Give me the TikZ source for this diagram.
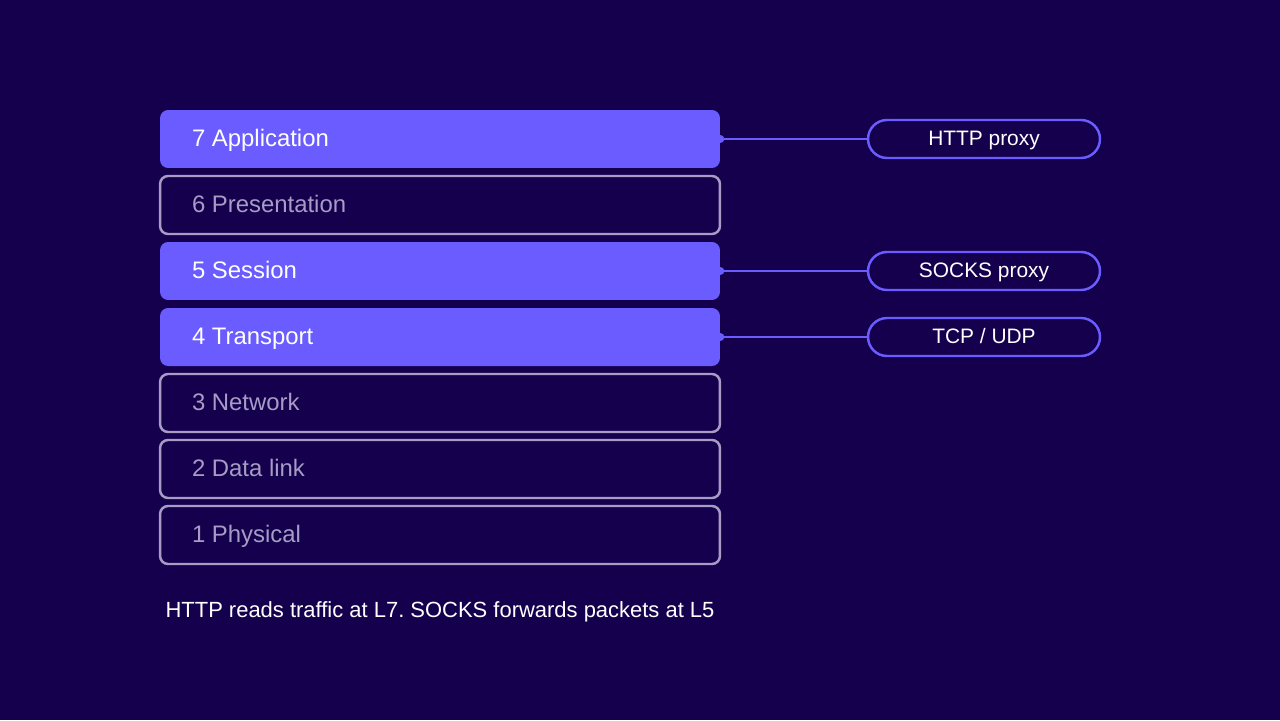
\documentclass[tikz,border=0pt]{standalone}
\usepackage{fontspec}
\setmainfont{Liberation Sans}
\usetikzlibrary{positioning}
\definecolor{bgdark}{HTML}{14004D}
\definecolor{layerblue}{HTML}{6A5CFF}
\definecolor{layergrey}{HTML}{A69CC6}
\tikzset{
layeron/.style={draw=none, fill=layerblue, rounded corners=0.16cm, minimum width=11.2cm, minimum height=1.16cm, text width=9.92cm, inner xsep=0.64cm, text height=2.05ex, text depth=0.45ex, align=flush left, text=white, font=\fontsize{13.6}{16}\selectfont},
layeroff/.style={layeron, fill=none, draw=layergrey, line width=1.4pt, text=layergrey},
proxybox/.style={draw=layerblue, line width=1.4pt, rounded corners=0.38cm, minimum width=4.64cm, minimum height=0.76cm, text height=1.75ex, text depth=0.45ex, text=white, font=\fontsize{11.9}{14}\selectfont},
proxylink/.style={draw=layerblue, line width=1.2pt}
}
\frenchspacing
\begin{document}
\begin{tikzpicture}[x=0.02cm, y=-0.02cm]
\fill[bgdark] (0,0) rectangle (1280,720);
\useasboundingbox (0,0) rectangle (1280,720);
\node[layeron] (app) at (440,139) {7 Application};
\node[layeroff] (pres) at (440,205) {6 Presentation};
\node[layeron] (sess) at (440,271) {5 Session};
\node[layeron] (trans) at (440,337) {4 Transport};
\node[layeroff] (net) at (440,403) {3 Network};
\node[layeroff] (link) at (440,469) {2 Data link};
\node[layeroff] (phys) at (440,535) {1 Physical};
\node[proxybox] (http) at (984,139) {HTTP proxy};
\node[proxybox] (socks) at (984,271) {SOCKS proxy};
\node[proxybox] (tcp) at (984,337) {TCP / UDP};
\draw[proxylink] (app.east) -- (http.west);
\draw[proxylink] (sess.east) -- (socks.west);
\draw[proxylink] (trans.east) -- (tcp.west);
\fill[layerblue] (app.east) circle (4);
\fill[layerblue] (sess.east) circle (4);
\fill[layerblue] (trans.east) circle (4);
\node[text=white, font=\fontsize{12.5}{15}\selectfont] (note) at (440,612) {HTTP reads traffic at L7. SOCKS forwards packets at L5};
\end{tikzpicture}
\end{document}
